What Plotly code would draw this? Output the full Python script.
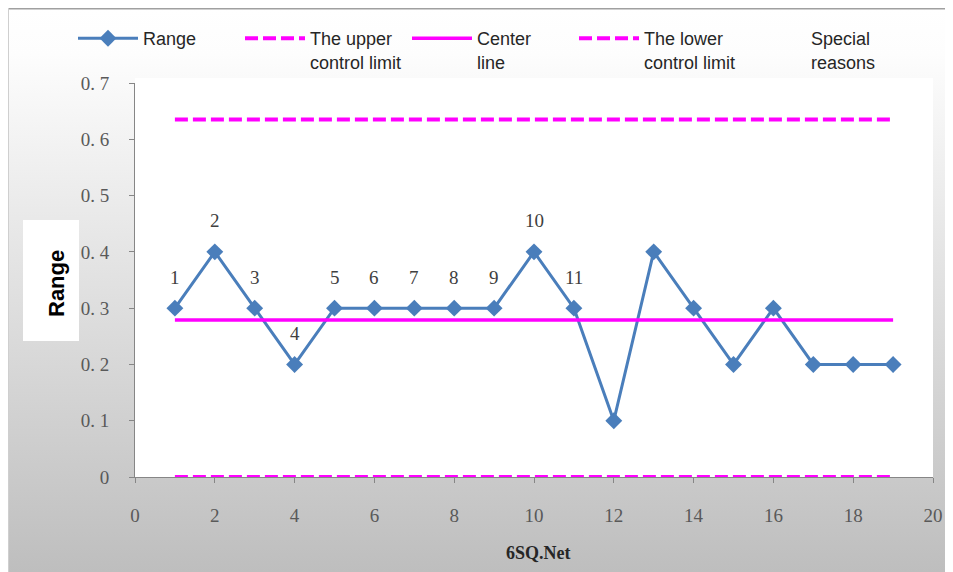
import plotly.graph_objects as go
import urllib.parse

# ---- data ----
sample = list(range(1, 20))
range_values = [0.3, 0.4, 0.3, 0.2, 0.3, 0.3, 0.3, 0.3, 0.3, 0.4,
                0.3, 0.1, 0.4, 0.3, 0.2, 0.3, 0.2, 0.2, 0.2]
ucl_value = 0.635
center_value = 0.279
lcl_value = 0.0
point_labels = ["1", "2", "3", "4", "5", "6", "7", "8", "9", "10", "11"]
x_ticks = [0, 2, 4, 6, 8, 10, 12, 14, 16, 18, 20]
y_ticks = [0, 0.1, 0.2, 0.3, 0.4, 0.5, 0.6, 0.7]
y_tick_labels = ["0", "0. 1", "0. 2", "0. 3", "0. 4", "0. 5", "0. 6", "0. 7"]

# page body has an 8px margin, so the figure is drawn 8px in from the window edge
OFF = 8
W, H = 953, 572
ML, MT = 135 - OFF, 83 - OFF
PW, PH = 798, 394
MR = W - ML - PW
MB = H - MT - PH

def px(xr):  # reference-window x -> paper x
    return (xr - OFF - ML) / PW

def py(yr):  # reference-window y -> paper y
    return (H - MB - (yr - OFF)) / PH

BLUE = "#4A7EBB"
MAG = "#FF00FF"
SERIF = "Liberation Serif, DejaVu Serif, serif"
SANS = "Liberation Sans, Arial, sans-serif"

fig = go.Figure()
fig.add_trace(go.Scatter(
    x=sample, y=range_values, name="Range", mode="lines+markers",
    line=dict(color=BLUE, width=3),
    marker=dict(symbol="diamond", size=13, color=BLUE),
    cliponaxis=False))
fig.add_trace(go.Scatter(
    x=sample, y=[ucl_value] * len(sample), name="The upper<br>control limit",
    mode="lines", line=dict(color=MAG, width=4, dash="13px,5px"), cliponaxis=False))
fig.add_trace(go.Scatter(
    x=sample, y=[center_value] * len(sample), name="Center<br>line",
    mode="lines", line=dict(color=MAG, width=3.5), cliponaxis=False))
fig.add_trace(go.Scatter(
    x=sample, y=[lcl_value] * len(sample), name="The lower<br>control limit",
    mode="lines", line=dict(color=MAG, width=4, dash="13px,5px"), cliponaxis=False))
fig.add_trace(go.Scatter(
    x=[None], y=[None], name="Special<br>reasons", mode="lines",
    line=dict(color="rgba(0,0,0,0)", width=0)))

annotations = []
for i, lab in enumerate(point_labels):
    annotations.append(dict(
        x=sample[i], y=range_values[i], text=lab, showarrow=False,
        xanchor="center", yanchor="middle",
        yshift=31, font=dict(family=SERIF, size=19, color="#404040")))
annotations.append(dict(
    xref="paper", yref="paper", x=px(56), y=py(284), text="<b>Range</b>",
    textangle=-90, showarrow=False, xanchor="center", yanchor="middle",
    font=dict(family=SANS, size=22, color="#000000")))
annotations.append(dict(
    xref="paper", yref="paper", x=px(538), y=py(553), text="<b>6SQ.Net</b>",
    showarrow=False, xanchor="center", yanchor="middle",
    font=dict(family=SERIF, size=18, color="#262626")))

svg = ("<svg xmlns='http://www.w3.org/2000/svg' width='%d' height='%d'>"
       "<defs><linearGradient id='g' x1='0' y1='0' x2='0' y2='1'>"
       "<stop offset='0' stop-color='#ffffff'/>"
       "<stop offset='0.08' stop-color='#fdfdfd'/>"
       "<stop offset='1' stop-color='#bdbdbd'/>"
       "</linearGradient></defs>"
       "<rect x='0' y='0' width='%d' height='%d' fill='url(#g)'/>"
       "<line x1='0' y1='0' x2='%d' y2='0' stroke='#a0a0a0' stroke-width='3'/>"
       "<line x1='0' y1='0' x2='0' y2='%d' stroke='#cfcfcf' stroke-width='2'/>"
       "</svg>") % (W, H, W, H, W, H)
svg_uri = "data:image/svg+xml;charset=utf-8," + urllib.parse.quote(svg)

shapes = [
    dict(type="rect", xref="paper", yref="paper", x0=0, x1=px(933), y0=0, y1=py(78),
         fillcolor="#ffffff", line=dict(width=0), layer="below"),
    dict(type="rect", xref="paper", yref="paper", x0=px(23), x1=px(79),
         y0=py(341), y1=py(220), fillcolor="#ffffff", line=dict(width=0), layer="below"),
]

fig.update_layout(
    width=W, height=H,
    margin=dict(l=ML, r=MR, t=MT, b=MB),
    paper_bgcolor="#ffffff", plot_bgcolor="rgba(0,0,0,0)",
    images=[dict(source=svg_uri, xref="paper", yref="paper",
                 x=-ML / PW, y=1 + MT / PH, sizex=W / PW, sizey=H / PH,
                 xanchor="left", yanchor="top", sizing="stretch", layer="below")],
    shapes=shapes,
    annotations=annotations,
    showlegend=True,
    legend=dict(orientation="h", x=px(73), xanchor="left", y=py(20), yanchor="top",
                font=dict(family=SANS, size=18, color="#262626"),
                bgcolor="rgba(0,0,0,0)", valign="top", entrywidth=92,
                itemwidth=60, tracegroupgap=0),
    xaxis=dict(range=[0, 20], tickvals=x_ticks, showgrid=False, zeroline=False,
               showline=True, linecolor="#868686", linewidth=1,
               ticks="outside", ticklen=5, tickcolor="#868686",
               tickfont=dict(family=SERIF, size=19, color="#595959"),
               ticklabelstandoff=16),
    yaxis=dict(range=[0, 0.7], tickvals=y_ticks, ticktext=y_tick_labels,
               showgrid=False, zeroline=False,
               showline=True, linecolor="#868686", linewidth=1,
               ticks="outside", ticklen=5, tickcolor="#868686",
               tickfont=dict(family=SERIF, size=19, color="#595959"),
               ticklabelstandoff=16),
)

fig.write_html("out.html")
